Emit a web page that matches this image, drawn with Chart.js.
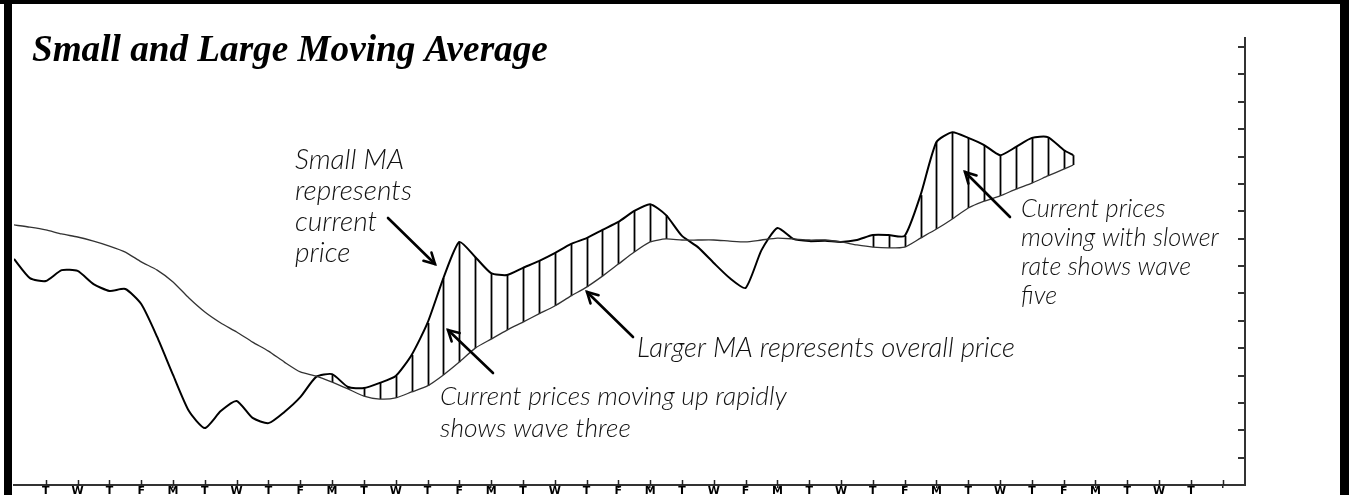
<!DOCTYPE html>
<html><head><meta charset="utf-8">
<script src="https://cdn.jsdelivr.net/npm/chart.js@4.4.1/dist/chart.umd.min.js"></script>
<style>html,body{margin:0;padding:0;background:#fff;overflow:hidden}canvas{display:block}</style>
</head><body>
<canvas id="c" width="1349" height="495"></canvas>
<script>
// ---- data ----
const days = [-1,-0.5,0,0.5,1,1.5,2,2.5,3,3.5,4,4.5,5,5.5,6,6.5,7,7.5,8,8.5,9,9.5,10,10.5,11,11.5,12,12.5,13,13.5,14,14.5,15,15.5,16,16.5,17,17.5,18,18.5,19,19.5,20,20.5,21,21.5,22,22.5,23,23.5,24,24.5,25,25.5,26,26.5,27,27.5,28,28.5,29,29.5,30,30.5,31,31.5,32,32.3];
const smallMA = [8.26,7.56,7.45,7.85,7.82,7.34,7.09,7.16,6.61,5.41,4.02,2.70,2.08,2.70,3.07,2.45,2.26,2.67,3.21,3.95,4.05,3.58,3.54,3.73,3.98,4.75,5.92,7.56,8.88,8.33,7.74,7.67,7.93,8.18,8.47,8.80,9.02,9.32,9.61,10.01,10.26,9.86,9.10,8.69,8.11,7.56,7.20,8.58,9.39,8.99,8.91,8.92,8.88,8.95,9.13,9.13,9.10,10.59,12.53,12.89,12.68,12.42,12.05,12.35,12.68,12.71,12.24,12.05];
const largeMA = [9.50,9.42,9.32,9.17,9.06,8.91,8.73,8.51,8.15,7.85,7.42,6.83,6.32,5.92,5.59,5.22,4.89,4.49,4.13,3.98,3.76,3.51,3.25,3.14,3.18,3.40,3.62,4.02,4.49,5.00,5.33,5.66,5.95,6.25,6.54,6.90,7.23,7.63,8.07,8.51,8.88,8.99,8.95,8.95,8.95,8.91,8.88,8.95,9.02,8.99,8.95,8.95,8.88,8.77,8.69,8.66,8.69,9.02,9.35,9.72,10.12,10.37,10.56,10.81,11.03,11.29,11.54,11.69];
const tickLabels = ['T','W','T','F','M','T','W','T','F','M','T','W','T','F','M','T','W','T','F','M','T','W','F','M','T','W','T','F','M','T','W','T','F','M','T','W','T',''];
const yTicks = [0,1,2,3,4,5,6,7,8,9,10,11,12,13,14,15,16];
const hatchRanges = [[9,12.5],[13,19.5],[26,32.3]];
const titleText = 'Small and Large Moving Average';
const noteTexts = [
  ['Small MA','represents','current','price'],
  ['Current prices moving up rapidly','shows wave three'],
  ['Larger MA represents overall price'],
  ['Current prices','moving with slower','rate shows wave','five']
];

// ---- layout of annotations (pixels) ----
const noteLayout = [
  {x:295, y:169, lh:31, w:117, arrow:[388,218,435,264]},
  {x:440, y:405, lh:32, w:347, arrow:[493,373,448,330]},
  {x:637, y:357, lh:32, w:378, arrow:[633,337,587,292]},
  {x:1021, y:217, lh:29, w:198, arrow:[1010,217,965,172]}
];
const NOTE_FONT = '"Lato", "Open Sans", sans-serif';

const framePlugin = {
  id:'frame',
  beforeDraw(chart){
    const c = chart.ctx; c.save();
    c.fillStyle = '#fff'; c.fillRect(0,0,chart.width,chart.height);
    c.fillStyle = '#000';
    c.fillRect(0,0,chart.width,4);
    c.fillRect(4,0,8,chart.height);
    c.fillRect(1340,0,9,chart.height);
    c.restore();
  }
};

const hatchPlugin = {
  id:'hatch',
  beforeDatasetsDraw(chart){
    const c = chart.ctx, xs = chart.scales.x, ys = chart.scales.y;
    c.save(); c.strokeStyle = '#000'; c.lineWidth = 1.8;
    days.forEach((d,i)=>{
      const inRange = hatchRanges.some(r => d >= r[0] && d <= r[1]);
      if (!inRange || smallMA[i] <= largeMA[i]) return;
      const px = Math.round(xs.getPixelForValue(d)) + 0.5;
      c.beginPath();
      c.moveTo(px, ys.getPixelForValue(smallMA[i]));
      c.lineTo(px, ys.getPixelForValue(largeMA[i]));
      c.stroke();
    });
    c.restore();
  }
};

const tickUpPlugin = {
  id:'tickUp',
  afterDraw(chart){
    const c = chart.ctx, xs = chart.scales.x, b = chart.chartArea.bottom;
    c.save(); c.strokeStyle = '#222'; c.lineWidth = 1.5;
    xs.ticks.forEach(t=>{
      const px = Math.round(xs.getPixelForValue(t.value)) + 0.5;
      c.beginPath(); c.moveTo(px, b-5); c.lineTo(px, b); c.stroke();
    });
    c.restore();
  }
};

function fitSize(c, text, target, weightStyle, family, base){
  c.font = weightStyle + ' ' + base + 'px ' + family;
  return base * target / c.measureText(text).width;
}

function arrow(c, x1,y1,x2,y2){
  const a = Math.atan2(y2-y1, x2-x1), L = 12, s = 0.5;
  c.beginPath(); c.moveTo(x1,y1); c.lineTo(x2,y2); c.stroke();
  c.beginPath();
  c.moveTo(x2 - L*Math.cos(a - s), y2 - L*Math.sin(a - s));
  c.lineTo(x2, y2);
  c.lineTo(x2 - L*Math.cos(a + s), y2 - L*Math.sin(a + s));
  c.stroke();
}

const notePlugin = {
  id:'notes',
  afterDraw(chart){
    const c = chart.ctx; c.save();
    const ts = fitSize(c, titleText, 516, 'italic bold', '"Liberation Serif", serif', 34);
    c.font = 'italic bold ' + ts + 'px "Liberation Serif", serif';
    c.fillStyle = '#000'; c.textBaseline = 'alphabetic'; c.textAlign = 'left';
    c.fillText(titleText, 32, 61);
    noteTexts.forEach((lines,i)=>{
      const L = noteLayout[i];
      const widest = lines.reduce((a,b)=> b.length > a.length ? b : a, '');
      const fs = fitSize(c, widest, L.w, 'italic 300', NOTE_FONT, 22);
      c.font = 'italic 300 ' + fs + 'px ' + NOTE_FONT;
      c.fillStyle = '#111';
      lines.forEach((t,j)=> c.fillText(t, L.x, L.y + j*L.lh));
      c.strokeStyle = '#000'; c.lineWidth = 2.6; c.lineCap = 'round'; c.lineJoin = 'miter';
      arrow(c, ...L.arrow);
    });
    c.restore();
  }
};

new Chart(document.getElementById('c'), {
  type:'line',
  data:{
    datasets:[
      {label:'Large MA', data: days.map((d,i)=>({x:d, y:largeMA[i]})), borderColor:'#333', borderWidth:1.3, tension:0.2, pointRadius:0, fill:false},
      {label:'Small MA', data: days.map((d,i)=>({x:d, y:smallMA[i]})), borderColor:'#000', borderWidth:2, tension:0.2, pointRadius:0, fill:false}
    ]
  },
  options:{
    responsive:false, animation:false, devicePixelRatio:1,
    layout:{padding:{left:14, top:38, right:0, bottom:0}},
    plugins:{legend:{display:false}, tooltip:{enabled:false}, title:{display:false}},
    scales:{
      x:{
        type:'linear', position:'bottom', min:-1, max:37.7,
        afterFit(s){ s.height = 10; },
        afterBuildTicks(s){ s.ticks = tickLabels.map((_,i)=>({value:i})); },
        ticks:{autoSkip:false, maxRotation:0, minRotation:0, padding:-3, color:'#000',
               font:{family:'"DejaVu Sans", sans-serif', size:11, weight:'bold'},
               callback:(v)=> tickLabels[v] !== undefined ? tickLabels[v] : ''},
        grid:{drawOnChartArea:false, drawTicks:true, tickLength:3, color:'#222', lineWidth:1.5},
        border:{display:true, color:'#333', width:2}
      },
      y:{
        type:'linear', position:'right', min:0, max:16.33,
        afterFit(s){ s.width = 104; },
        afterBuildTicks(s){ s.ticks = yTicks.map(v=>({value:v})); },
        ticks:{display:false},
        grid:{drawOnChartArea:false, drawTicks:true, tickLength:-7, color:'#333', lineWidth:2},
        border:{display:true, color:'#333', width:2}
      }
    }
  },
  plugins:[framePlugin, hatchPlugin, tickUpPlugin, notePlugin]
});
</script>
</body></html>
